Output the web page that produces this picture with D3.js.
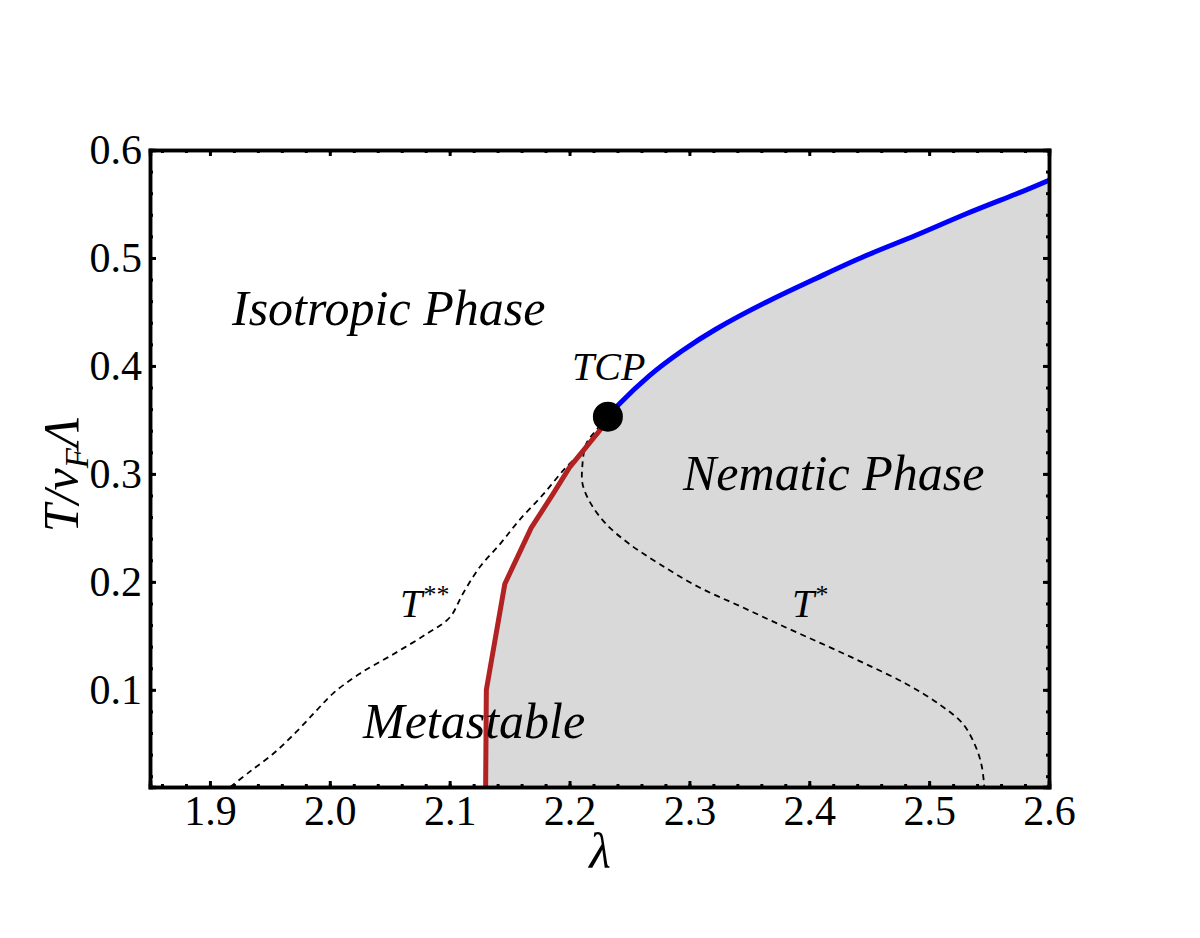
<!DOCTYPE html>
<html>
<head>
<meta charset="utf-8">
<script src="https://cdn.jsdelivr.net/npm/d3@7"></script>
<style>
  body { margin: 0; background: #fff; }
  svg text { font-family: "Liberation Serif", "Times New Roman", serif; fill: #000; }
</style>
</head>
<body>
<svg id="chart" width="1200" height="938"></svg>
<script>
// first-order line (blue), lambda vs T/vF Lambda
const blueLambda = [2.232, 2.2417, 2.2667, 2.294, 2.322, 2.364, 2.4056, 2.447, 2.489, 2.53, 2.572, 2.6];
const blueT = [0.353, 0.365, 0.391, 0.414, 0.434, 0.459, 0.481, 0.502, 0.521, 0.5405, 0.559, 0.572];

// second-order line (red)
const redLambda = [2.13, 2.1306, 2.146, 2.168, 2.186, 2.2, 2.214, 2.225, 2.232];
const redT = [0.01, 0.1, 0.198, 0.25, 0.281, 0.306, 0.325, 0.34, 0.353];

// T** spinodal (dashed, left)
const tssLambda = [1.917, 1.933, 1.953, 1.972, 1.989, 2.003, 2.025, 2.053, 2.081, 2.1, 2.111, 2.125, 2.142, 2.158, 2.178, 2.197, 2.214, 2.225, 2.232];
const tssT = [0.01, 0.024, 0.041, 0.061, 0.081, 0.097, 0.115, 0.133, 0.152, 0.167, 0.189, 0.2135, 0.235, 0.257, 0.281, 0.306, 0.324, 0.34, 0.353];

// T* spinodal (dashed, right)
const tsLambda = [2.232, 2.222, 2.214, 2.2106, 2.211, 2.218, 2.2306, 2.25, 2.275, 2.308, 2.344, 2.38, 2.414, 2.447, 2.4806, 2.508, 2.528, 2.539, 2.544, 2.546];
const tsT = [0.353, 0.34, 0.328, 0.306, 0.29, 0.272, 0.2535, 0.235, 0.2166, 0.195, 0.1766, 0.158, 0.141, 0.124, 0.1057, 0.087, 0.0687, 0.047, 0.0288, 0.01];

const tcp = [2.232, 0.353];

const xTicks = [1.9, 2.0, 2.1, 2.2, 2.3, 2.4, 2.5, 2.6];
const yTicks = [0.1, 0.2, 0.3, 0.4, 0.5, 0.6];

const xDomain = [1.85, 2.6];
const yDomain = [0.01, 0.6];

const svg = d3.select('#chart');
const box = { left: 150, right: 1049, top: 150, bottom: 787 };

const x = d3.scaleLinear().domain(xDomain).range([box.left, box.right]);
const y = d3.scaleLinear().domain(yDomain).range([box.bottom, box.top]);

const zip = (a, b) => a.map((v, i) => [v, b[i]]);
const blue = zip(blueLambda, blueT);
const red = zip(redLambda, redT);
const tss = zip(tssLambda, tssT);
const ts = zip(tsLambda, tsT);

svg.append('defs').append('clipPath').attr('id', 'plot')
    .append('rect').attr('x', box.left).attr('y', box.top)
    .attr('width', box.right - box.left).attr('height', box.bottom - box.top);

const g = svg.append('g').attr('clip-path', 'url(#plot)');

const smooth = d3.line().x(d => x(d[0])).y(d => y(d[1])).curve(d3.curveCatmullRom.alpha(0.5));
const natural = d3.line().x(d => x(d[0])).y(d => y(d[1])).curve(d3.curveNatural);
const straight = d3.line().x(d => x(d[0])).y(d => y(d[1]));

// nematic region: under red + blue, out to the right edge
const edge = [[xDomain[1], yDomain[0]], [redLambda[0], yDomain[0]]];
g.append('path')
    .attr('d', straight(red) + natural(blue).replace(/^M/, 'L') + straight(edge).replace(/^M/, 'L') + 'Z')
    .attr('fill', '#d9d9d9');

[tss, ts].forEach(pts => {
    g.append('path').attr('d', smooth(pts))
        .attr('fill', 'none').attr('stroke', '#000')
        .attr('stroke-width', 1.8).attr('stroke-dasharray', '6,4.5');
});

g.append('path').attr('d', straight(red))
    .attr('fill', 'none').attr('stroke', '#b22222').attr('stroke-width', 5)
    .attr('stroke-linejoin', 'round');

g.append('path').attr('d', natural(blue))
    .attr('fill', 'none').attr('stroke', '#0000ff').attr('stroke-width', 5);

svg.append('circle')
    .attr('cx', x(tcp[0])).attr('cy', y(tcp[1])).attr('r', 15)
    .attr('fill', '#000');

// labels inside the plot
const label = (tx, ty, txt, size, anchor) => svg.append('text')
    .attr('x', tx).attr('y', ty)
    .attr('font-size', size).attr('font-style', 'italic')
    .attr('text-anchor', anchor || 'start')
    .text(txt);

label(232, 325, 'Isotropic Phase', 50);
label(572, 380, 'TCP', 40);
label(683, 490, 'Nematic Phase', 50);
label(363, 738, 'Metastable', 50);

const tl = label(400, 617, 'T', 40);
tl.append('tspan').attr('font-size', 26).attr('dy', -14).text('**');
const tl2 = label(792, 617, 'T', 40);
tl2.append('tspan').attr('font-size', 26).attr('dy', -14).text('*');

// frame with inward ticks on all four sides
const minorX = d3.range(93, 131).map(i => i / 50).filter(v => v >= xDomain[0] && v <= xDomain[1]);
const minorY = d3.range(1, 31).map(i => i / 50);

function frame(axisFn, scale, pos, major, minor, labels) {
    const a = svg.append('g').attr('transform', pos);
    a.call(axisFn(scale).tickValues(minor).tickSize(-3).tickFormat(''));
    const b = svg.append('g').attr('transform', pos);
    b.call(axisFn(scale).tickValues(major).tickSize(-6).tickPadding(8)
        .tickFormat(labels ? d3.format('.1f') : ''));
    [a, b].forEach(s => {
        s.select('.domain').attr('stroke-width', 3.5).attr('stroke', '#000');
        s.selectAll('.tick line').attr('stroke-width', 3).attr('stroke', '#000');
        s.selectAll('text').attr('font-size', 42)
            .attr('font-family', '"Liberation Serif", "Times New Roman", serif');
    });
}

frame(d3.axisBottom, x, `translate(0,${box.bottom})`, xTicks, minorX, true);
frame(d3.axisTop, x, `translate(0,${box.top})`, xTicks, minorX, false);
frame(d3.axisLeft, y, `translate(${box.left},0)`, yTicks, minorY, true);
frame(d3.axisRight, y, `translate(${box.right},0)`, yTicks, minorY, false);

// axis titles
svg.append('text')
    .attr('x', 600).attr('y', 868)
    .attr('font-size', 50).attr('font-style', 'italic')
    .attr('text-anchor', 'middle')
    .text('λ');

const yl = svg.append('text')
    .attr('transform', 'translate(78,475) rotate(-90)')
    .attr('font-size', 50).attr('font-style', 'italic')
    .attr('text-anchor', 'middle');
yl.append('tspan').text('T/ν');
yl.append('tspan').attr('font-size', 33).attr('dy', 10).text('F');
yl.append('tspan').attr('dy', -10).text('Λ');
</script>
</body>
</html>
